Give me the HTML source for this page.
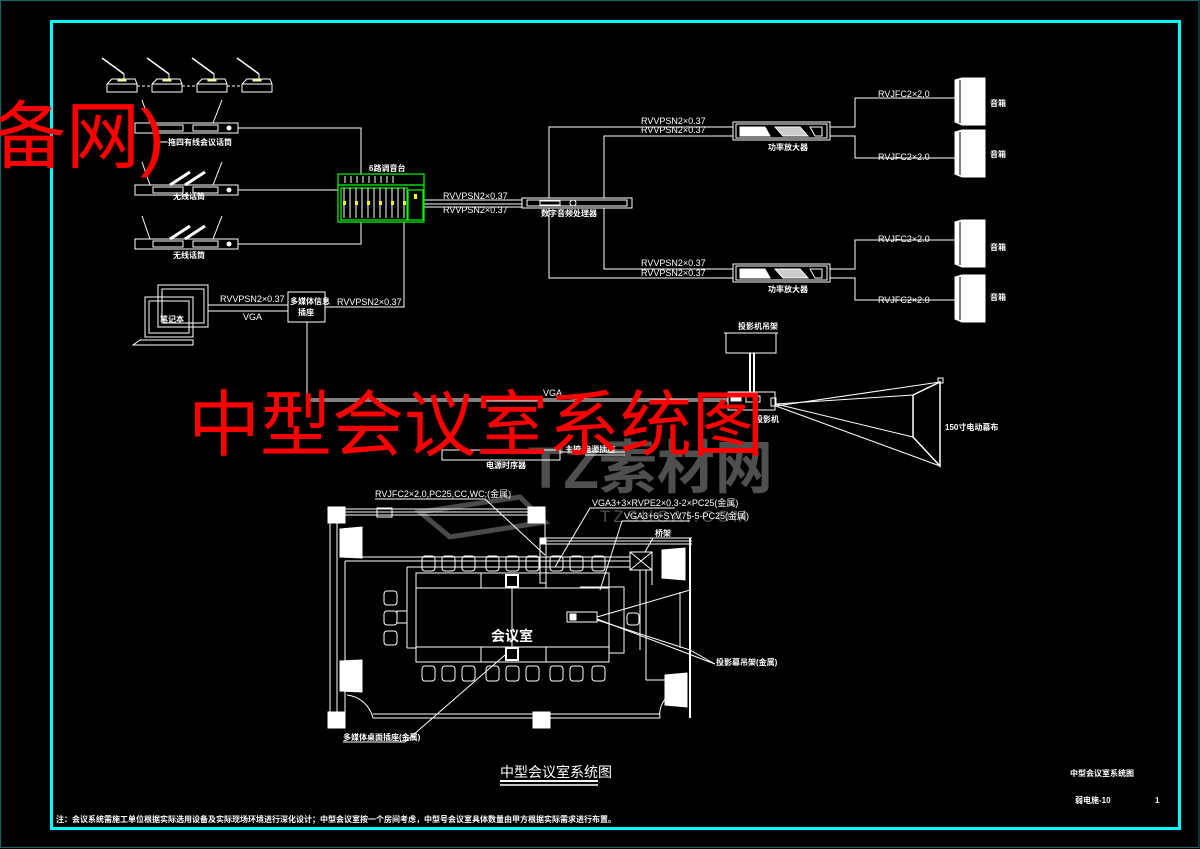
<!DOCTYPE html>
<html><head><meta charset="utf-8"><style>
html,body{margin:0;padding:0;background:#000;width:1200px;height:849px;overflow:hidden}
svg{display:block}
text{font-family:"Liberation Sans","Noto Sans CJK SC",sans-serif;fill:#fff}
.s{font-size:8px;font-weight:bold}
.l{font-size:9px}
</style></head><body>
<svg width="1200" height="849" viewBox="0 0 1200 849" xmlns="http://www.w3.org/2000/svg">
<rect x="0" y="0" width="1200" height="849" fill="#000"/>
<rect x="0.5" y="0.5" width="1198.5" height="847" fill="none" stroke="#0a6b6b" stroke-width="1"/>
<rect x="51.5" y="21.5" width="1128" height="807" fill="none" stroke="#00ffff" stroke-width="3"/>

<!-- watermarks (grey, behind) -->
<g fill="none" stroke="#4a4a4a" stroke-width="5">
<polygon points="420,512 520,497 545,522 450,537"/>
</g>
<text x="528" y="488" style="font-size:58px;font-weight:bold;fill:#4f4f4f">TZ素材网</text>
<text x="600" y="522" style="font-size:17px;fill:#4f4f4f;letter-spacing:3px">TZSUCAI.COM</text>

<g stroke="#fff" fill="none" stroke-width="1">
<!-- conference mics -->
<g id="mic"><polygon points="107,84 112,79 135,79 137,84 137,92 107,92" /><line x1="107" y1="84" x2="137" y2="84"/><line x1="102" y1="58" x2="124" y2="74" stroke-width="1.5"/><line x1="124" y1="74" x2="124" y2="79"/><rect x="118" y="79" width="8" height="2" fill="#ff0"/></g>
<use href="#mic" x="45" y="0"/><use href="#mic" x="90" y="0"/><use href="#mic" x="135" y="0"/>
<line x1="137" y1="86" x2="152" y2="86" stroke-dasharray="3,2"/><line x1="182" y1="86" x2="197" y2="86" stroke-dasharray="3,2"/><line x1="227" y1="86" x2="242" y2="86" stroke-dasharray="3,2"/>
<!-- receivers -->
<g id="rx"><rect x="135" y="123" width="103" height="10"/><rect x="153" y="125" width="30" height="6"/><rect x="193" y="125" width="25" height="6"/><line x1="150" y1="123" x2="142" y2="100"/><line x1="213" y1="123" x2="222" y2="100"/><circle cx="229" cy="128" r="2" fill="#fff"/></g>
<use href="#rx" x="0" y="62"/><use href="#rx" x="0" y="116"/>
<line x1="170" y1="185" x2="190" y2="172" stroke-width="3"/><line x1="185" y1="185" x2="205" y2="172" stroke-width="3"/>
<line x1="170" y1="239" x2="190" y2="226" stroke-width="3"/><line x1="185" y1="239" x2="205" y2="226" stroke-width="3"/>
<polyline points="238,128 361,128 361,174"/>
<line x1="238" y1="190" x2="338" y2="190"/>
<polyline points="238,244 361,244 361,222"/>
<!-- mixer output -->
<line x1="424" y1="200" x2="522" y2="200"/><line x1="424" y1="204" x2="522" y2="204"/><line x1="424" y1="207" x2="522" y2="207"/>
<rect x="522" y="198" width="110" height="10"/><rect x="527" y="200" width="100" height="6"/><rect x="540" y="201" width="20" height="4"/><circle cx="573" cy="203" r="3"/>
<!-- dsp to amps -->
<polyline points="549,198 549,127 733,127"/><polyline points="604,198 604,136 733,136"/>
<polyline points="604,208 604,269 733,269"/><polyline points="549,208 549,278 733,278"/>
<g id="amp"><rect x="733" y="122" width="97" height="18"/><rect x="736" y="124" width="91" height="14"/><polygon points="740,127 765,127 770,136 740,136" fill="#fff"/><polygon points="775,127 800,127 808,136 783,136" fill="#ccc"/><polygon points="810,127 822,127 822,136 815,136"/></g>
<use href="#amp" x="0" y="142"/>
<polyline points="830,127 855,127 855,98 955,98"/><polyline points="830,136 855,136 855,158 955,158"/>
<polyline points="830,269 855,269 855,240 955,240"/><polyline points="830,278 855,278 855,300 955,300"/>
<g id="spk"><polygon points="955,80 962,78 985,78 985,125 962,125 955,122" fill="#fff"/><line x1="960" y1="80" x2="960" y2="123" stroke="#000"/></g>
<use href="#spk" x="0" y="52"/><use href="#spk" x="0" y="142"/><use href="#spk" x="0" y="197"/>
<!-- laptop & socket -->
<rect x="158" y="285" width="50" height="42"/><rect x="162" y="289" width="42" height="34"/>
<rect x="145" y="297" width="48" height="40"/><rect x="149" y="301" width="40" height="32"/>
<polygon points="140,340 193,340 193,345 133,345"/>
<line x1="208" y1="305" x2="288" y2="305"/><line x1="208" y1="311" x2="288" y2="311"/>
<rect x="288" y="292" width="37" height="30"/>
<polyline points="325,307 404,307 404,222"/>
<line x1="307" y1="322" x2="307" y2="400"/>
<line x1="307" y1="399" x2="728" y2="399"/><line x1="307" y1="401" x2="728" y2="401"/>
<!-- projector -->
<rect x="726" y="333" width="50" height="20"/><line x1="724" y1="333" x2="778" y2="333"/>
<line x1="750" y1="353" x2="750" y2="392" stroke-width="2"/><line x1="754" y1="353" x2="754" y2="392" stroke-width="2"/>
<rect x="728" y="392" width="47" height="18"/><rect x="731" y="395" width="10" height="6" fill="#fff"/><rect x="746" y="396" width="14" height="6"/><rect x="771" y="398" width="5" height="8"/>
<line x1="776" y1="404" x2="913" y2="395"/><line x1="776" y1="404" x2="913" y2="437"/><line x1="776" y1="406" x2="940" y2="382"/><line x1="776" y1="406" x2="940" y2="466"/>
<polyline points="913,395 940,382 940,466 913,437 913,395" stroke-width="1.5"/>
<rect x="938" y="378" width="5" height="5"/>
<!-- sequencer -->
<rect x="442" y="450" width="118" height="10"/><line x1="560" y1="452" x2="625" y2="452"/><line x1="585" y1="455" x2="625" y2="455"/>

<!-- floor plan -->
<rect x="328" y="507" width="17" height="16" fill="#fff"/><rect x="528" y="507" width="17" height="16" fill="#fff"/>
<line x1="345" y1="509" x2="528" y2="509"/><line x1="345" y1="512" x2="528" y2="512"/><line x1="345" y1="515" x2="528" y2="515"/>
<rect x="377" y="508" width="15" height="9"/>
<rect x="330" y="523" width="7" height="190"/><line x1="337" y1="523" x2="337" y2="713"/>
<rect x="328" y="712" width="17" height="16" fill="#fff"/><rect x="533" y="712" width="17" height="16" fill="#fff"/>
<rect x="540" y="538" width="6" height="45" /><line x1="545" y1="523" x2="545" y2="538"/>
<rect x="540" y="538" width="6" height="6" fill="#fff"/>
<line x1="546" y1="538" x2="692" y2="538"/><line x1="546" y1="541" x2="692" y2="541"/><line x1="546" y1="544" x2="692" y2="544"/>
<line x1="690" y1="538" x2="690" y2="718" stroke-width="2"/>
<line x1="345" y1="557" x2="630" y2="557"/><line x1="345" y1="561" x2="630" y2="561"/>
<line x1="345" y1="561" x2="345" y2="713"/>
<line x1="373" y1="718" x2="660" y2="718"/><line x1="373" y1="714" x2="660" y2="714"/>
<path d="M347,695 A30,30 0 0 1 373,718"/><path d="M660,718 A25,25 0 0 1 680,690"/>
<line x1="407" y1="567" x2="630" y2="567"/><line x1="407" y1="567" x2="407" y2="648"/><line x1="407" y1="648" x2="416" y2="648"/>
<rect x="416" y="573" width="193" height="89"/>
<line x1="416" y1="588" x2="609" y2="588"/><line x1="416" y1="647" x2="609" y2="647"/>
<line x1="481" y1="573" x2="481" y2="588"/><line x1="546" y1="573" x2="546" y2="588"/><line x1="481" y1="647" x2="481" y2="662"/><line x1="546" y1="647" x2="546" y2="662"/>
<line x1="512" y1="587" x2="512" y2="647"/>
<rect x="506" y="575" width="12" height="12" stroke-width="2"/><rect x="506" y="648" width="12" height="12" stroke-width="2"/>
<rect x="397" y="611" width="10" height="12"/>
<polyline points="580,587 624,587 624,653 609,653"/>
<g id="ch"><rect x="422" y="556" width="13" height="15" rx="3"/></g>
<use href="#ch" x="20"/><use href="#ch" x="40"/><use href="#ch" x="64"/><use href="#ch" x="84"/><use href="#ch" x="104"/><use href="#ch" x="128"/><use href="#ch" x="148"/><use href="#ch" x="170"/>
<use href="#ch" y="110"/><use href="#ch" x="20" y="110"/><use href="#ch" x="40" y="110"/><use href="#ch" x="64" y="110"/><use href="#ch" x="84" y="110"/><use href="#ch" x="104" y="110"/><use href="#ch" x="128" y="110"/><use href="#ch" x="148" y="110"/><use href="#ch" x="170" y="110"/>
<rect x="384" y="591" width="13" height="14" rx="3"/><rect x="384" y="611" width="13" height="14" rx="3"/><rect x="384" y="631" width="13" height="14" rx="3"/>
<rect x="627" y="613" width="12" height="12" rx="3"/>
<polygon points="340,529 362,527 362,558 340,557" fill="#fff"/>
<polygon points="340,661 362,660 362,692 340,691" fill="#fff"/>
<polygon points="662,550 685,548 685,580 662,578" fill="#fff"/>
<polygon points="665,675 687,673 687,707 665,705" fill="#fff"/>
<rect x="630" y="552" width="22" height="18"/><line x1="630" y1="552" x2="652" y2="570"/><line x1="652" y1="552" x2="630" y2="570"/>
<line x1="652" y1="561" x2="652" y2="585"/><line x1="640" y1="570" x2="640" y2="650"/><line x1="646" y1="570" x2="646" y2="680"/><line x1="646" y1="680" x2="665" y2="680"/>
<rect x="567" y="612" width="30" height="10"/><rect x="570" y="614" width="6" height="6" fill="#fff"/>
<line x1="597" y1="617" x2="690" y2="590"/><line x1="597" y1="620" x2="690" y2="650"/><line x1="680" y1="592" x2="680" y2="648"/>
<line x1="597" y1="619" x2="715" y2="664"/><line x1="690" y1="650" x2="715" y2="664"/>
<!-- leader lines -->
<line x1="375" y1="499" x2="485" y2="499"/><line x1="485" y1="499" x2="545" y2="555"/>
<line x1="590" y1="508" x2="675" y2="508"/><line x1="590" y1="508" x2="555" y2="567"/>
<line x1="622" y1="521" x2="690" y2="521"/><line x1="622" y1="521" x2="600" y2="590"/>
<line x1="653" y1="538" x2="645" y2="552"/>
<line x1="343" y1="742" x2="405" y2="742"/><line x1="405" y1="742" x2="505" y2="655"/>
<!-- title underline -->
<line x1="500" y1="781" x2="598" y2="781" stroke-width="2"/><line x1="500" y1="785" x2="598" y2="785" stroke-width="1.5"/>
</g>

<!-- mixer -->
<g stroke="#00ff00" fill="none" stroke-width="1.2">
<rect x="338" y="174" width="86" height="48"/><line x1="338" y1="185" x2="424" y2="185"/>
<rect x="341" y="188" width="66" height="32"/><rect x="408" y="190" width="15" height="30"/>
</g>
<g stroke="#fff" stroke-width="1">
<line x1="344" y1="188" x2="344" y2="218"/><line x1="350" y1="188" x2="350" y2="218"/><line x1="356" y1="188" x2="356" y2="218"/><line x1="362" y1="188" x2="362" y2="218"/><line x1="368" y1="188" x2="368" y2="218"/><line x1="374" y1="188" x2="374" y2="218"/><line x1="380" y1="188" x2="380" y2="218"/><line x1="386" y1="188" x2="386" y2="218"/><line x1="392" y1="188" x2="392" y2="218"/><line x1="398" y1="188" x2="398" y2="218"/><line x1="404" y1="188" x2="404" y2="218"/>
<line x1="345" y1="176" x2="345" y2="183"/><line x1="351" y1="176" x2="351" y2="183"/><line x1="357" y1="176" x2="357" y2="183"/><line x1="363" y1="176" x2="363" y2="183"/><line x1="369" y1="176" x2="369" y2="183"/><line x1="375" y1="176" x2="375" y2="183"/><line x1="381" y1="176" x2="381" y2="183"/><line x1="387" y1="176" x2="387" y2="183"/><line x1="393" y1="176" x2="393" y2="183"/>
</g>
<g fill="#ffff00"><rect x="343" y="201" width="3" height="4"/><rect x="355" y="201" width="3" height="4"/><rect x="367" y="201" width="3" height="4"/><rect x="379" y="201" width="3" height="4"/><rect x="391" y="201" width="3" height="4"/><rect x="403" y="201" width="3" height="4"/><rect x="414" y="194" width="3" height="5"/></g>

<!-- labels -->
<text class="s" x="160" y="145">一拖四有线会议话筒</text>
<text class="s" x="173" y="199">无线话筒</text>
<text class="s" x="173" y="258">无线话筒</text>
<text class="s" x="369" y="171">6路调音台</text>
<text class="l" x="443" y="199">RVVPSN2×0.37</text>
<text class="l" x="443" y="213">RVVPSN2×0.37</text>
<text class="s" x="541" y="216">数字音频处理器</text>
<text class="l" x="641" y="124">RVVPSN2×0.37</text>
<text class="l" x="641" y="133">RVVPSN2×0.37</text>
<text class="l" x="641" y="266">RVVPSN2×0.37</text>
<text class="l" x="641" y="276">RVVPSN2×0.37</text>
<text class="s" x="768" y="150">功率放大器</text>
<text class="s" x="768" y="292">功率放大器</text>
<text class="l" x="878" y="97">RVJFC2×2.0</text>
<text class="l" x="878" y="160">RVJFC2×2.0</text>
<text class="l" x="878" y="242">RVJFC2×2.0</text>
<text class="l" x="878" y="303">RVJFC2×2.0</text>
<text class="s" x="990" y="106">音箱</text><text class="s" x="990" y="157">音箱</text><text class="s" x="990" y="250">音箱</text><text class="s" x="990" y="300">音箱</text>
<text class="l" x="220" y="302">RVVPSN2×0.37</text>
<text class="l" x="243" y="320">VGA</text>
<text class="l" x="337" y="305">RVVPSN2×0.37</text>
<text class="s" x="290" y="304">多媒体信息</text><text class="s" x="298" y="315">插座</text>
<text class="s" x="160" y="322">笔记本</text>
<text class="l" x="543" y="396">VGA</text>
<text class="s" x="738" y="329">投影机吊架</text>
<text class="s" x="755" y="422">投影机</text>
<text class="s" x="945" y="430">150寸电动幕布</text>
<text class="s" x="486" y="468">电源时序器</text>
<text class="s" x="565" y="452">主控 电源插座</text>
<text class="l" x="375" y="497">RVJFC2×2.0,PC25,CC,WC;(金属)</text>
<text class="l" x="592" y="506">VGA3+3×RVPE2×0.3-2×PC25(金属)</text>
<text class="l" x="624" y="519">VGA3+6+SYV75-5-PC25(金属)</text>
<text class="s" x="655" y="536">桥架</text>
<text x="491" y="641" style="font-size:14px;font-weight:bold">会议室</text>
<text class="s" x="716" y="665">投影幕吊架(金属)</text>
<text class="s" x="343" y="740">多媒体桌面插座(金属)</text>
<text x="500" y="777" style="font-size:14px">中型会议室系统图</text>
<text class="s" x="1070" y="776">中型会议室系统图</text>
<text class="s" x="1075" y="803">弱电施-10</text>
<text class="s" x="1155" y="803">1</text>
<text class="s" x="56" y="822">注：会议系统需施工单位根据实际选用设备及实际现场环境进行深化设计；中型会议室按一个房间考虑，中型号会议室具体数量由甲方根据实际需求进行布置。</text>

<text x="188" y="450" style="font-size:72px;fill:#ff0000">中型会议室系统图</text>
<text x="-8" y="162" style="font-size:74px;fill:#ff0000">备网)</text>
</svg>
</body></html>
